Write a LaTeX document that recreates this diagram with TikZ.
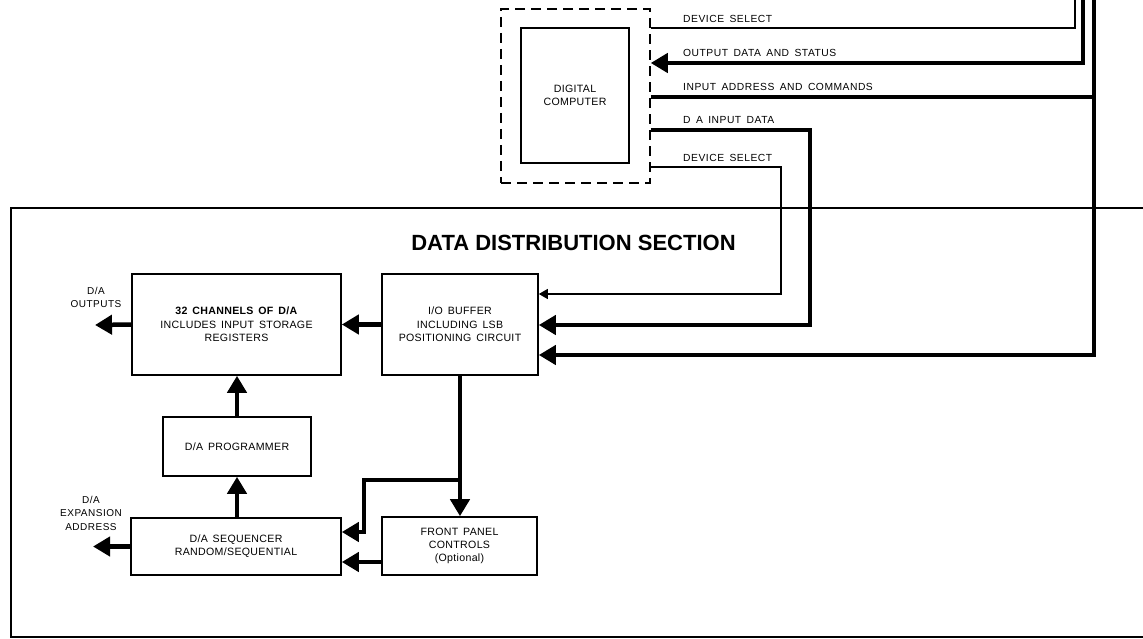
\documentclass[tikz,border=0pt]{standalone}
\usepackage{fontspec}
\setmainfont{Liberation Sans}
\newfontfamily\lblfont{Liberation Sans}[LetterSpace=5,WordSpace=1.6]
\newfontfamily\boxfont{Liberation Sans}[LetterSpace=3,WordSpace=1.5]
\usetikzlibrary{arrows.meta}

\begin{document}
\begin{tikzpicture}[x=1pt,y=-1pt,
    block/.style={draw,line width=1.6pt,inner sep=0pt,align=center,
      font=\boxfont\fontsize{10.6}{13.3}\selectfont},
    lab/.style={align=center,inner sep=0pt,font=\lblfont\fontsize{10}{13.5}\selectfont},
    sig/.style={anchor=base west,inner sep=0pt,font=\lblfont\fontsize{10.3}{12}\selectfont},
    busline/.style={line width=4.5pt},
    bus/.style={busline,-{Triangle[length=17pt,width=19pt]}},
    wire/.style={line width=1.3pt},
    wirearr/.style={wire,-{Triangle[length=9pt,width=10pt]}}]
  \useasboundingbox (0,0) rectangle (1143,639);

  % computer and its frame
  \node[draw,line width=1.5pt,dash pattern=on 10pt off 6pt,minimum width=149pt,minimum height=174pt] (frame) at (575.5,96) {};
  \node[block,minimum width=108pt,minimum height=135pt] (comp) at (575,95.5) {DIGITAL\\COMPUTER};

  % section outline
  \draw[line width=2.8pt] (1143,208) -- (11,208) -- (11,637) -- (1143,637);
  \node[font=\bfseries\fontsize{22}{26}\selectfont] (title) at (573.5,243) {DATA DISTRIBUTION SECTION};

  % blocks
  \node[block,minimum width=209pt,minimum height=101pt] (chan) at (236.5,324.5)
    {\textbf{32 CHANNELS OF D/A}\\INCLUDES INPUT STORAGE\\REGISTERS};
  \node[block,minimum width=156pt,minimum height=101pt] (buf) at (460,324.5)
    {I/O BUFFER\\INCLUDING LSB\\POSITIONING CIRCUIT};
  \node[block,minimum width=148pt,minimum height=59pt] (prog) at (237,446.5) {D/A PROGRAMMER};
  \node[block,minimum width=210pt,minimum height=57pt] (seq) at (236,546.5)
    {D/A SEQUENCER\\RANDOM/SEQUENTIAL};
  \node[block,minimum width=155pt,minimum height=58pt] (panel) at (459.5,546)
    {FRONT PANEL\\CONTROLS\\(Optional)};

  \node[lab] (outlbl) at (96,297.5) {D/A\\OUTPUTS};
  \node[lab] (explbl) at (91,513) {D/A\\EXPANSION\\ADDRESS};
  \coordinate (outend) at (95,325);
  \coordinate (expend) at (93,546.5);

  % inside the section
  \draw[bus] (buf.west) -- (chan.west -| chan.east);
  \draw[bus] (chan.west) -- (outend);
  \draw[bus] (prog.north) -- (prog.north |- chan.south);
  \draw[bus] (seq.north -| prog.north) -- (prog.south);
  \draw[bus] (seq.west) -- (expend);
  \draw[bus] (buf.south) -- (buf.south |- panel.north);
  \coordinate (brk) at (buf.south |- 0,480);
  \coordinate (seqin) at (seq.east |- 0,532);
  \draw[bus] (brk) -- ++(-96,0) |- (seqin);
  \draw[bus] (panel.west |- 0,562) -- (seq.east |- 0,562);

  % lines to and from the computer
  \coordinate (ds1top) at (1075,0);
  \coordinate (odtop) at (1083,0);
  \coordinate (iatop) at (1094,0);
  \draw[wire] (frame.east |- 0,28) -| (ds1top);
  \draw[bus] (odtop) |- (frame.east |- 0,63);
  \draw[busline] (frame.east |- 0,97) -- (iatop |- 0,97);
  \draw[bus] (iatop) |- (buf.east |- 0,355);
  \draw[bus] (frame.east |- 0,130) -| (810,325) -- (buf.east |- 0,325);
  \draw[wirearr] (frame.east |- 0,167) -| (781,294) -- (buf.east |- 0,294);

  \node[sig] (lds1) at (683,22.5) {DEVICE SELECT};
  \node[sig] (lod) at (683,56.5) {OUTPUT DATA AND STATUS};
  \node[sig] (lia) at (683,91) {INPUT ADDRESS AND COMMANDS};
  \node[sig] (lda) at (683,124) {D A INPUT DATA};
  \node[sig] (lds2) at (683,162) {DEVICE SELECT};
\end{tikzpicture}
\end{document}
